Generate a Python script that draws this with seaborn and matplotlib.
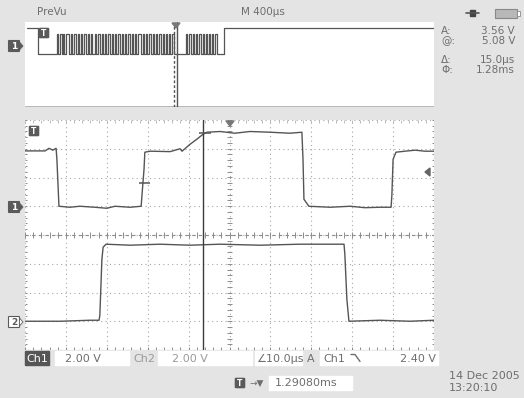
import matplotlib
matplotlib.use("Agg")
import matplotlib.pyplot as plt
import matplotlib.patches as mpatches
import seaborn as sns
import pandas as pd
import numpy as np

# Ch1 trace: time in µs from left edge of screen (10 µs/div), volts
ch1_t = [0, 4.9, 5.9, 6.8, 7.6, 7.8, 8.3, 11.0, 13.4, 17.1, 20.0, 22.0, 25.7, 28.4, 28.6, 29.1,
         29.3, 30.6, 35.5, 36.7, 37.9, 38.4, 40.3, 42.0, 43.5, 44.5, 47.7, 51.3, 55.0, 59.9,
         64.8, 67.7, 67.97, 68.2, 69.4, 74.6, 79.5, 83.1, 86.8, 89.5, 89.7, 90.0, 90.7, 92.9,
         95.4, 97.8, 100]
ch1_v = [3.85, 3.85, 4.03, 3.9, 4.03, 3.27, 0.0, -0.07, 0.0, -0.07, -0.14, 0.0, -0.07, 0.0, 0.77, 2.57,
         3.76, 3.83, 3.8, 3.9, 4.0, 3.83, 4.3, 4.66, 5.0, 5.15, 5.2, 5.08, 5.2, 5.15,
         5.08, 5.15, 3.27, 0.49, 0.0, -0.07, 0.0, -0.1, -0.07, -0.07, 0.77, 3.27, 3.76, 3.83,
         3.9, 3.83, 3.83]

# Ch2 trace
ch2_t = [0, 8.6, 15.9, 18.1, 18.3, 18.8, 19.1, 19.8, 25.7, 33.0, 40.3, 47.7, 57.5, 67.2,
         78.0, 78.2, 78.7, 79.2, 86.8, 94.1, 100]
ch2_v = [0.0, 0.0, 0.07, 0.07, 0.42, 4.3, 5.15, 5.36, 5.29, 5.36, 5.29, 5.36, 5.29, 5.36,
         5.36, 4.66, 1.53, 0.0, 0.07, 0.0, 0.07]

# PreVu strip (400 µs/div): pulse burst, rise / fall times in ms
prev_rise = [0.31, 0.34, 0.37, 0.40, 0.45, 0.48, 0.52, 0.55, 0.58, 0.62, 0.65, 0.68, 0.71, 0.75,
             0.78, 0.81, 0.85, 0.88, 0.91, 0.95, 0.98, 1.01, 1.05, 1.08, 1.11, 1.15, 1.18,
             1.21, 1.25, 1.28, 1.31, 1.35, 1.38, 1.41, 1.44,
             1.57, 1.60, 1.64, 1.67, 1.70, 1.74, 1.77, 1.80, 1.83, 1.86]
prev_fall = [0.32, 0.36, 0.38, 0.43, 0.46, 0.50, 0.53, 0.56, 0.60, 0.63, 0.66, 0.69, 0.73, 0.76,
             0.79, 0.83, 0.86, 0.89, 0.93, 0.96, 0.99, 1.03, 1.06, 1.09, 1.13, 1.16, 1.19,
             1.23, 1.26, 1.29, 1.33, 1.36, 1.39, 1.42, 1.46,
             1.58, 1.62, 1.65, 1.68, 1.72, 1.75, 1.78, 1.81, 1.84, 1.88]
prev_idle = [5.08, 0.13, 1.95]   # idle level (V), end of first high, start of final high (ms)
prev_pulse_v = 4.0

BG = "#e4e4e4"
TXT = "#6e6e6e"
TRACE = "#555555"
GRID = "#a8a8a8"

W, H = 524, 398
fig = plt.figure(figsize=(W / 100, H / 100), dpi=100, facecolor=BG)
sns.set_style("white")


def px_axes(x0, y0, x1, y1):
    return fig.add_axes([x0 / W, 1 - y1 / H, (x1 - x0) / W, (y1 - y0) / H])


# ---------------- main graticule ----------------
ax = px_axes(25, 120, 434, 350)
ax.set_facecolor("white")
ax.set_xlim(0, 100)
ax.set_ylim(-4, 4)
for s in ax.spines.values():
    s.set_visible(False)
ax.set_xticks([])
ax.set_yticks([])

dot = (0, (1, 3))
for t in range(0, 101, 10):
    ax.axvline(t, color=GRID, lw=0.8, ls=dot)
for d in range(-4, 5):
    ax.axhline(d, color=GRID, lw=0.8, ls=dot)
ax.axhline(0, color="#8c8c8c", lw=0.8, ls=(0, (3, 3)))
# minor ticks on centre lines and borders
minor_t = np.arange(0, 100.1, 2)
minor_d = np.arange(-4, 4.01, 0.2)
ax.vlines(minor_t, -0.1, 0.1, color="#8c8c8c", lw=0.7)
ax.hlines(minor_d, 49.3, 50.7, color="#8c8c8c", lw=0.7)
ax.vlines(minor_t, -4, -3.88, color="#8c8c8c", lw=0.7)
ax.vlines(minor_t, 3.88, 4, color="#bbbbbb", lw=0.7)
ax.hlines(minor_d, 0, 0.6, color="#8c8c8c", lw=0.7)
ax.hlines(minor_d, 99.4, 100, color="#8c8c8c", lw=0.7)
ax.axhline(-4, color="#8c8c8c", lw=0.8, ls=(0, (4, 2)))

ch1 = pd.DataFrame({"t": ch1_t, "div": np.array(ch1_v) / 2.0 + 1.0})
ch2 = pd.DataFrame({"t": ch2_t, "div": np.array(ch2_v) / 2.0 - 3.0})
sns.lineplot(data=ch1, x="t", y="div", ax=ax, color=TRACE, lw=1.0, sort=False, estimator=None)
sns.lineplot(data=ch2, x="t", y="div", ax=ax, color=TRACE, lw=1.0, sort=False, estimator=None)
ax.set_xlabel("")
ax.set_ylabel("")

# cursor line and marks
ax.axvline(43.5, color="#3c3c3c", lw=1.0)
ax.hlines([1.0 + 1.6 / 2], 27.9, 30.6, color=TRACE, lw=1.1)
ax.hlines([1.0 + 5.08 / 2], 42.5, 45.5, color=TRACE, lw=1.1)

# ---------------- PreVu strip ----------------
ap = px_axes(25, 22, 434, 107)
ap.set_facecolor("white")
ap.set_xlim(0, 4.0)
ap.set_ylim(-10.4, 6.3)
ap.set_xticks([])
ap.set_yticks([])
for s in ap.spines.values():
    s.set_visible(False)
ap.axhline(-10.4, color="#b0b0b0", lw=2)

hi, t_first, t_last = prev_idle
pt, pv = [0.02, t_first, t_first], [hi, hi, 0.0]
for r, f in zip(prev_rise, prev_fall):
    pt += [r, r, f, f]
    pv += [0.0, prev_pulse_v, prev_pulse_v, 0.0]
pt += [t_last, t_last, 4.0]
pv += [0.0, hi, hi]
prev = pd.DataFrame({"t": pt, "v": pv})
sns.lineplot(data=prev, x="t", y="v", ax=ap, color=TRACE, lw=0.9, sort=False, estimator=None)
ap.set_xlabel("")
ap.set_ylabel("")
ap.axvline(1.455, color="#555555", lw=1.0, ls=(0, (2, 1.5)))
ap.axvline(1.49, color="#555555", lw=1.0)

# ---------------- overlay for labels / icons ----------------
ov = fig.add_axes([0, 0, 1, 1], facecolor="none")
ov.set_xlim(0, W)
ov.set_ylim(H, 0)
ov.axis("off")

fs = 7.5
ov.text(37, 12, "PreVu", color=TXT, fontsize=fs, va="center")
ov.text(241, 12, "M 400µs", color=TXT, fontsize=fs, va="center")

# plug + battery icons
ov.plot([466, 479], [13, 13], color="#555555", lw=1.2)
ov.add_patch(mpatches.Rectangle((470, 10), 5, 6, color="#444444"))
ov.add_patch(mpatches.Rectangle((495, 9), 22, 9, facecolor="#b8b8b8", edgecolor="#888888", lw=0.8))
ov.add_patch(mpatches.Rectangle((517, 11), 3, 5, facecolor="white", edgecolor="#888888", lw=0.6))

readout = [("A:", "3.56 V", 31), ("@:", "5.08 V", 41), ("Δ:", "15.0µs", 60), ("Φ:", "1.28ms", 70)]
for lab, val, y in readout:
    ov.text(441, y, lab, color=TXT, fontsize=fs, va="center")
    ov.text(515, y, val, color=TXT, fontsize=fs, va="center", ha="right")

# channel ground markers
def marker(x, y, label, filled):
    fc = "#5a5a5a" if filled else "white"
    tc = "white" if filled else "#5a5a5a"
    ov.add_patch(mpatches.FancyBboxPatch((x, y - 5), 10, 10, boxstyle="round,pad=0.5",
                                         facecolor=fc, edgecolor="#5a5a5a", lw=0.8))
    ov.add_patch(mpatches.Polygon([[x + 10.5, y - 4], [x + 14, y], [x + 10.5, y + 4]],
                                  facecolor=fc, edgecolor="#5a5a5a", lw=0.6))
    ov.text(x + 5, y + 0.5, label, color=tc, fontsize=6.5, ha="center", va="center",
            fontweight="bold")

marker(9, 207, "1", True)
marker(9, 322, "2", False)
marker(9, 46, "1", True)

# trigger icons
def t_icon(x, y):
    ov.add_patch(mpatches.FancyBboxPatch((x, y - 4), 8, 8, boxstyle="round,pad=0.6",
                                         facecolor="#5a5a5a", edgecolor="#5a5a5a"))
    ov.text(x + 4, y + 0.5, "T", color="white", fontsize=5.5, ha="center", va="center",
            fontweight="bold")

t_icon(30, 131)
t_icon(40, 33)
ov.add_patch(mpatches.Polygon([[226, 121], [234, 121], [230, 126]], color="#777777"))
ov.add_patch(mpatches.Polygon([[172, 23], [180, 23], [176, 28]], color="#777777"))
ov.add_patch(mpatches.Polygon([[425, 172], [430, 168], [430, 176]], color="#666666"))

# bottom readout bar
bar_y0, bar_y1 = 351, 365
ov.add_patch(mpatches.Rectangle((25, bar_y0), 24, bar_y1 - bar_y0, color="#555555"))
for x0, x1 in [(55, 129), (158, 252), (255, 302), (320, 438)]:
    ov.add_patch(mpatches.Rectangle((x0, bar_y0), x1 - x0, bar_y1 - bar_y0, color="white"))
ym = (bar_y0 + bar_y1) / 2 + 0.5
fb = 8
ov.text(37, ym, "Ch1", color="white", fontsize=fb, ha="center", va="center")
ov.text(65, ym, "2.00 V", color=TXT, fontsize=fb, va="center")
ov.text(133, ym, "Ch2", color="#9a9a9a", fontsize=fb, va="center")
ov.text(172, ym, "2.00 V", color="#9a9a9a", fontsize=fb, va="center")
ov.text(256, ym, "∠10.0µs", color=TXT, fontsize=fb, va="center")
ov.text(307, ym, "A", color=TXT, fontsize=fb, va="center")
ov.text(323, ym, "Ch1", color=TXT, fontsize=fb, va="center")
# falling-edge symbol
ov.plot([351, 355, 360], [354.5, 354.5, 361.5], color=TXT, lw=1.0)
ov.text(436, ym, "2.40 V", color=TXT, fontsize=fb, va="center", ha="right")

# trigger position readout
t_icon(236, 383)
ov.text(250, 383, "→▼", color=TXT, fontsize=6.5, va="center")
ov.add_patch(mpatches.Rectangle((269, 376), 83, 14, color="white"))
ov.text(275, 383.5, "1.29080ms", color=TXT, fontsize=fb, va="center")

ov.text(449, 376, "14 Dec 2005", color=TXT, fontsize=fb, va="center")
ov.text(449, 388, "13:20:10", color=TXT, fontsize=fb, va="center")

fig.savefig("out.png", dpi=100, facecolor=BG)
